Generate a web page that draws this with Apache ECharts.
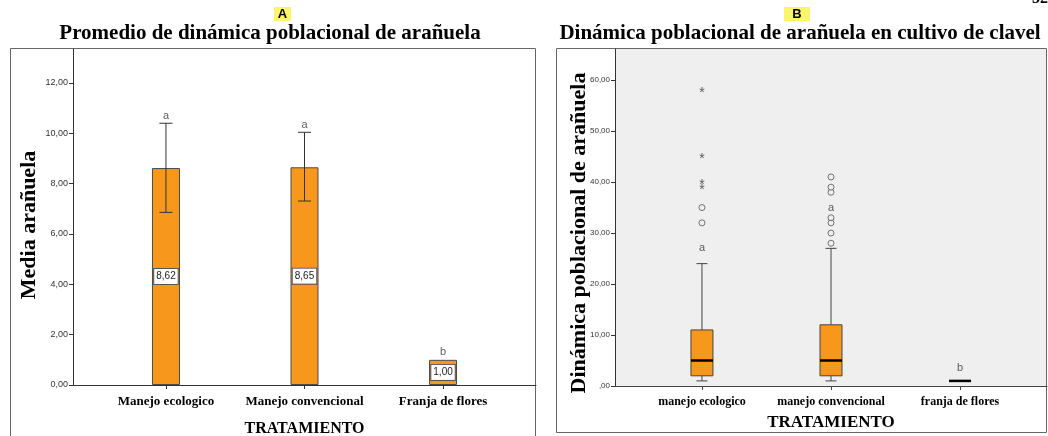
<!DOCTYPE html>
<html lang="es">
<head>
    <meta charset="UTF-8">
    <title>Dinámica poblacional de arañuela</title>
    <script src="https://cdn.jsdelivr.net/npm/echarts@6.0.0/dist/echarts.min.js"></script>
</head>
<body style="margin:0;background:#fff">
    <div id="chart" style="width: 1048px; height: 436px;"></div>
    <script>
        var myChart = echarts.init(document.getElementById('chart'));

        // Panel A: medias con intervalo de error
        const categoriasA = ['Manejo ecologico', 'Manejo convencional', 'Franja de flores'];
        const mediasA = [8.62, 8.65, 1.00];
        const errorBajoA = [6.86, 7.31, 1.00];
        const errorAltoA = [10.40, 10.04, 1.00];
        const letrasA = ['a', 'a', 'b'];
        const letraPosA = [10.68, 10.33, 1.32];
        const ticksA = [0, 2, 4, 6, 8, 10, 12];

        // Panel B: diagramas de caja [min, Q1, mediana, Q3, max]
        const categoriasB = ['manejo ecologico', 'manejo convencional', 'franja de flores'];
        const cajasB = [[1, 2, 5, 11, 24], [1, 2, 5, 12, 27], [1, 1, 1, 1, 1]];
        const circulosB = [[1, 32], [1, 35], [2, 28], [2, 30], [2, 32], [2, 33], [2, 38], [2, 39], [2, 41]];
        const estrellasB = [[1, 39], [1, 40], [1, 45], [1, 58]];
        const letrasB = ['a', 'a', 'b'];
        const letraPosB = [27, 35, 3.6];
        const ticksB = [0, 10, 20, 30, 40, 50, 60];

        const serif = 'Liberation Serif';
        const sans = 'Liberation Sans';
        const coma = v => v.toFixed(2).replace('.', ',');

        const option = {
            animation: false,
            title: [
                { text: 'Promedio de dinámica poblacional de arañuela', left: 265, top: 18, textAlign: 'center',
                  textStyle: { fontFamily: serif, fontSize: 21, fontWeight: 'bold', color: '#000' } },
                { text: 'Dinámica poblacional de arañuela en cultivo de clavel', left: 795, top: 18, textAlign: 'center',
                  textStyle: { fontFamily: serif, fontSize: 21, fontWeight: 'bold', color: '#000' } }
            ],
            graphic: [
                { type: 'rect', shape: { x: 10.5, y: 48.5, width: 525, height: 400 }, style: { fill: 'none', stroke: '#666', lineWidth: 1 } },
                { type: 'rect', shape: { x: 556.5, y: 48.5, width: 490, height: 384 }, style: { fill: 'none', stroke: '#666', lineWidth: 1 } },
                { type: 'rect', shape: { x: 274, y: 7, width: 17, height: 14 }, style: { fill: '#fbf46c' } },
                { type: 'text', x: 282.5, y: 14, style: { text: 'A', fontFamily: sans, fontWeight: 'bold', fontSize: 13, fill: '#000', align: 'center', verticalAlign: 'middle' } },
                { type: 'rect', shape: { x: 784, y: 7, width: 26, height: 14 }, style: { fill: '#fbf46c' } },
                { type: 'text', x: 797, y: 14, style: { text: 'B', fontFamily: sans, fontWeight: 'bold', fontSize: 13, fill: '#000', align: 'center', verticalAlign: 'middle' } },
                { type: 'text', x: 1040, y: -9, style: { text: '32', fontFamily: serif, fontWeight: 'bold', fontSize: 16, fill: '#000', align: 'center' } },
                // títulos de los ejes Y
                { type: 'text', x: 29, y: 225, rotation: Math.PI / 2,
                  style: { text: 'Media arañuela', fontFamily: serif, fontWeight: 'bold', fontSize: 22, fill: '#000', align: 'center', verticalAlign: 'middle' } },
                { type: 'text', x: 579, y: 233, rotation: Math.PI / 2,
                  style: { text: 'Dinámica poblacional de arañuela', fontFamily: serif, fontWeight: 'bold', fontSize: 22, fill: '#000', align: 'center', verticalAlign: 'middle' } }
            ],
            grid: [
                { left: 73, right: 512, top: 49, bottom: 51, outerBoundsMode: 'none', containLabel: false },
                { left: 615, right: 1, top: 49, bottom: 50, outerBoundsMode: 'none', containLabel: false,
                  show: true, backgroundColor: '#efefef', borderWidth: 0 }
            ],
            xAxis: [
                {
                    type: 'value', gridIndex: 0, min: 0.329, max: 3.671,
                    name: 'TRATAMIENTO', nameLocation: 'middle', nameGap: 36,
                    nameTextStyle: { fontFamily: serif, fontSize: 16, fontWeight: 'bold', color: '#000' },
                    splitLine: { show: false },
                    axisLine: { lineStyle: { color: '#333' } },
                    axisTick: { customValues: [1, 2, 3], length: 4, lineStyle: { color: '#333' } },
                    axisLabel: { customValues: [1, 2, 3], formatter: v => categoriasA[Math.round(v) - 1],
                                 margin: 10, fontFamily: serif, fontSize: 13, fontWeight: 'bold', color: '#000' }
                },
                {
                    type: 'value', gridIndex: 1, min: 0.326, max: 3.674,
                    name: 'TRATAMIENTO', nameLocation: 'middle', nameGap: 28,
                    nameTextStyle: { fontFamily: serif, fontSize: 17, fontWeight: 'bold', color: '#000' },
                    splitLine: { show: false },
                    axisLine: { lineStyle: { color: '#444' } },
                    axisTick: { customValues: [1, 2, 3], length: 4, lineStyle: { color: '#444' } },
                    axisLabel: { customValues: [1, 2, 3], formatter: v => categoriasB[Math.round(v) - 1],
                                 margin: 10, fontFamily: serif, fontSize: 12, fontWeight: 'bold', color: '#000' }
                }
            ],
            yAxis: [
                {
                    type: 'value', gridIndex: 0, min: 0, max: 13.35,
                    splitLine: { show: false },
                    axisLine: { show: true, lineStyle: { color: '#333' } },
                    axisTick: { show: true, customValues: ticksA, length: 4, lineStyle: { color: '#333' } },
                    axisLabel: { customValues: ticksA, formatter: coma, margin: 5, fontFamily: sans, fontSize: 9, color: '#333' }
                },
                {
                    type: 'value', gridIndex: 1, min: 0, max: 66.1,
                    splitLine: { show: false },
                    axisLine: { show: true, lineStyle: { color: '#333' } },
                    axisTick: { show: true, customValues: ticksB, length: 4, lineStyle: { color: '#333' } },
                    axisLabel: { customValues: ticksB, formatter: v => v === 0 ? ',00' : coma(v),
                                 margin: 5, fontFamily: sans, fontSize: 8, color: '#333' }
                }
            ],
            series: [
                {
                    type: 'bar', xAxisIndex: 0, yAxisIndex: 0, barWidth: 28,
                    data: mediasA.map((v, i) => [i + 1, v]),
                    itemStyle: { color: '#f7981d', borderColor: '#4a4a4a', borderWidth: 1 },
                    label: {
                        show: true, position: 'inside', formatter: p => coma(p.value[1]),
                        fontFamily: sans, fontSize: 10, color: '#222',
                        backgroundColor: '#fff', borderColor: '#555', borderWidth: 1, padding: [3, 2, 2, 2]
                    }
                },
                {
                    // barras de error
                    type: 'custom', xAxisIndex: 0, yAxisIndex: 0, z: 5,
                    data: errorBajoA.map((v, i) => [i + 1, v, errorAltoA[i]]),
                    renderItem: function (params, api) {
                        if (api.value(1) === api.value(2)) return null;
                        const lo = api.coord([api.value(0), api.value(1)]);
                        const hi = api.coord([api.value(0), api.value(2)]);
                        const w = 6.5;
                        const st = { stroke: '#333', lineWidth: 1 };
                        return {
                            type: 'group', children: [
                                { type: 'line', shape: { x1: lo[0], y1: lo[1], x2: hi[0], y2: hi[1] }, style: st },
                                { type: 'line', shape: { x1: lo[0] - w, y1: lo[1], x2: lo[0] + w, y2: lo[1] }, style: st },
                                { type: 'line', shape: { x1: hi[0] - w, y1: hi[1], x2: hi[0] + w, y2: hi[1] }, style: st }
                            ]
                        };
                    }
                },
                {
                    type: 'scatter', xAxisIndex: 0, yAxisIndex: 0, symbolSize: 1,
                    itemStyle: { color: 'rgba(0,0,0,0)' },
                    data: letrasA.map((t, i) => ({ name: t, value: [i + 1, letraPosA[i]] })),
                    label: { show: true, position: 'inside', formatter: '{b}', fontFamily: sans, fontSize: 11, color: '#333' }
                },
                {
                    // diagramas de caja
                    type: 'custom', xAxisIndex: 1, yAxisIndex: 1,
                    data: cajasB.map((c, i) => [i + 1].concat(c)),
                    renderItem: function (params, api) {
                        const x = api.value(0);
                        const pMin = api.coord([x, api.value(1)]);
                        const pQ1 = api.coord([x, api.value(2)]);
                        const pMed = api.coord([x, api.value(3)]);
                        const pQ3 = api.coord([x, api.value(4)]);
                        const pMax = api.coord([x, api.value(5)]);
                        const hw = 11, cw = 5.5;
                        const st = { stroke: '#444', lineWidth: 1 };
                        return {
                            type: 'group', children: [
                                { type: 'line', shape: { x1: pMax[0], y1: pMax[1], x2: pQ3[0], y2: pQ3[1] }, style: st },
                                { type: 'line', shape: { x1: pMin[0], y1: pMin[1], x2: pQ1[0], y2: pQ1[1] }, style: st },
                                { type: 'line', shape: { x1: pMax[0] - cw, y1: pMax[1], x2: pMax[0] + cw, y2: pMax[1] }, style: st },
                                { type: 'line', shape: { x1: pMin[0] - cw, y1: pMin[1], x2: pMin[0] + cw, y2: pMin[1] }, style: st },
                                { type: 'rect', shape: { x: pQ3[0] - hw, y: pQ3[1], width: 2 * hw, height: pQ1[1] - pQ3[1] },
                                  style: { fill: '#f7981d', stroke: '#444', lineWidth: 1 } },
                                { type: 'line', shape: { x1: pMed[0] - hw, y1: pMed[1], x2: pMed[0] + hw, y2: pMed[1] },
                                  style: { stroke: '#000', lineWidth: 2.5 } }
                            ]
                        };
                    }
                },
                {
                    type: 'scatter', xAxisIndex: 1, yAxisIndex: 1,
                    symbol: 'circle', symbolSize: 6,
                    itemStyle: { color: '#efefef', borderColor: '#555', borderWidth: 1 },
                    data: circulosB
                },
                {
                    type: 'scatter', xAxisIndex: 1, yAxisIndex: 1, symbolSize: 1,
                    itemStyle: { color: 'rgba(0,0,0,0)' },
                    data: estrellasB,
                    label: { show: true, position: 'inside', formatter: '*', offset: [0, 3], fontFamily: sans, fontSize: 14, color: '#333' }
                },
                {
                    type: 'scatter', xAxisIndex: 1, yAxisIndex: 1, symbolSize: 1,
                    itemStyle: { color: 'rgba(0,0,0,0)' },
                    data: letrasB.map((t, i) => ({ name: t, value: [i + 1, letraPosB[i]] })),
                    label: { show: true, position: 'inside', formatter: '{b}', fontFamily: sans, fontSize: 11, color: '#333' }
                }
            ]
        };

        myChart.setOption(option);
    </script>
</body>
</html>
